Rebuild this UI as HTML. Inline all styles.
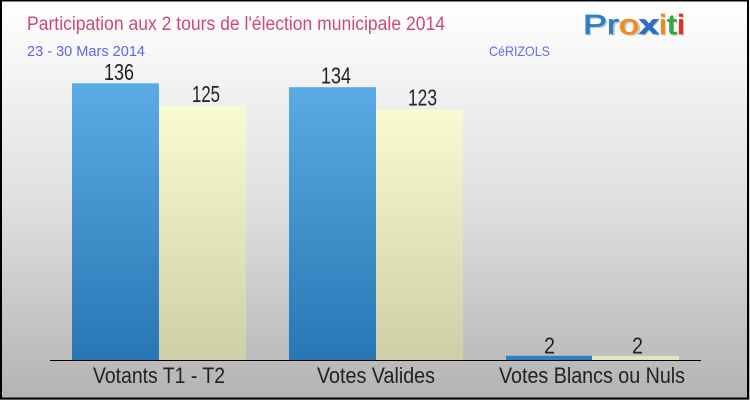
<!DOCTYPE html>
<html><head><meta charset="utf-8"><style>
html,body{margin:0;padding:0;}
body{width:750px;height:400px;overflow:hidden;}
svg{display:block;}
text{font-family:"Liberation Sans",sans-serif;}
</style></head><body>
<svg width="750" height="400" viewBox="0 0 750 400" xmlns="http://www.w3.org/2000/svg">
<defs>
<linearGradient id="bg" x1="0" y1="0" x2="0" y2="1">
<stop offset="0" stop-color="#ffffff"/>
<stop offset="0.5" stop-color="#e0e0e0"/>
<stop offset="1" stop-color="#b3b3b3"/>
</linearGradient>
<linearGradient id="gb" gradientUnits="userSpaceOnUse" x1="0" y1="83" x2="0" y2="360">
<stop offset="0" stop-color="#5babe6"/>
<stop offset="1" stop-color="#2877b4"/>
</linearGradient>
<linearGradient id="gy" gradientUnits="userSpaceOnUse" x1="0" y1="105" x2="0" y2="360">
<stop offset="0" stop-color="#fbfbd3"/>
<stop offset="1" stop-color="#ceCfa6"/>
</linearGradient>
</defs>
<rect x="0" y="0" width="750" height="400" fill="url(#bg)"/>
<rect x="1" y="0.5" width="747" height="398" fill="none" stroke="#000" stroke-width="2"/>

<text x="27" y="30" font-size="19" fill="#cc4a78" textLength="418" lengthAdjust="spacingAndGlyphs">Participation aux 2 tours de l'élection municipale 2014</text>
<text x="27" y="56" font-size="14.5" fill="#6262ec" textLength="118" lengthAdjust="spacingAndGlyphs">23 - 30 Mars 2014</text>
<text x="489" y="56" font-size="14" fill="#6a6af0" textLength="61" lengthAdjust="spacingAndGlyphs">CéRIZOLS</text>

<text x="583" y="34" font-size="28" textLength="102" lengthAdjust="spacingAndGlyphs" fill="#c8c8c8" transform="translate(1.5,1.5)">Proxiti</text>
<text x="583" y="34" font-size="28" textLength="102" lengthAdjust="spacingAndGlyphs" stroke-width="0.8"><tspan fill="#2f7fc8" stroke="#2f7fc8">Pr</tspan><tspan fill="#f08a1c" stroke="#f08a1c">o</tspan><tspan fill="#2a6fc4" stroke="#2a6fc4" font-weight="bold">x</tspan><tspan fill="#f08a1c" stroke="#f08a1c">i</tspan><tspan fill="#3aa53a" stroke="#3aa53a">t</tspan><tspan fill="#e0302a" stroke="#e0302a">i</tspan></text>

<rect x="72" y="83.3" width="87" height="276.7" fill="url(#gb)"/>
<rect x="159" y="105.5" width="87" height="254.5" fill="url(#gy)"/>
<rect x="289" y="87.2" width="87" height="272.8" fill="url(#gb)"/>
<rect x="376" y="109.5" width="87" height="250.5" fill="url(#gy)"/>
<rect x="506" y="355.8" width="86" height="4.2" fill="#2f7fc0"/>
<rect x="592" y="355.8" width="87" height="4.2" fill="#e4e4bd"/>

<line x1="50" y1="360.5" x2="701" y2="360.5" stroke="#000" stroke-width="1"/>

<g font-size="23" fill="#222">
<text x="104" y="80" textLength="30" lengthAdjust="spacingAndGlyphs">136</text>
<text x="192" y="102" textLength="28" lengthAdjust="spacingAndGlyphs">125</text>
<text x="321" y="83.5" textLength="30" lengthAdjust="spacingAndGlyphs">134</text>
<text x="408" y="105.5" textLength="29" lengthAdjust="spacingAndGlyphs">123</text>
<text x="544" y="353.5" textLength="11" lengthAdjust="spacingAndGlyphs">2</text>
<text x="632" y="353.5" textLength="11" lengthAdjust="spacingAndGlyphs">2</text>
</g>

<g font-size="22" fill="#222">
<text x="93" y="383" textLength="132" lengthAdjust="spacingAndGlyphs">Votants T1 - T2</text>
<text x="317" y="383" textLength="118" lengthAdjust="spacingAndGlyphs">Votes Valides</text>
<text x="499" y="383" textLength="186" lengthAdjust="spacingAndGlyphs">Votes Blancs ou Nuls</text>
</g>
</svg>
</body></html>
